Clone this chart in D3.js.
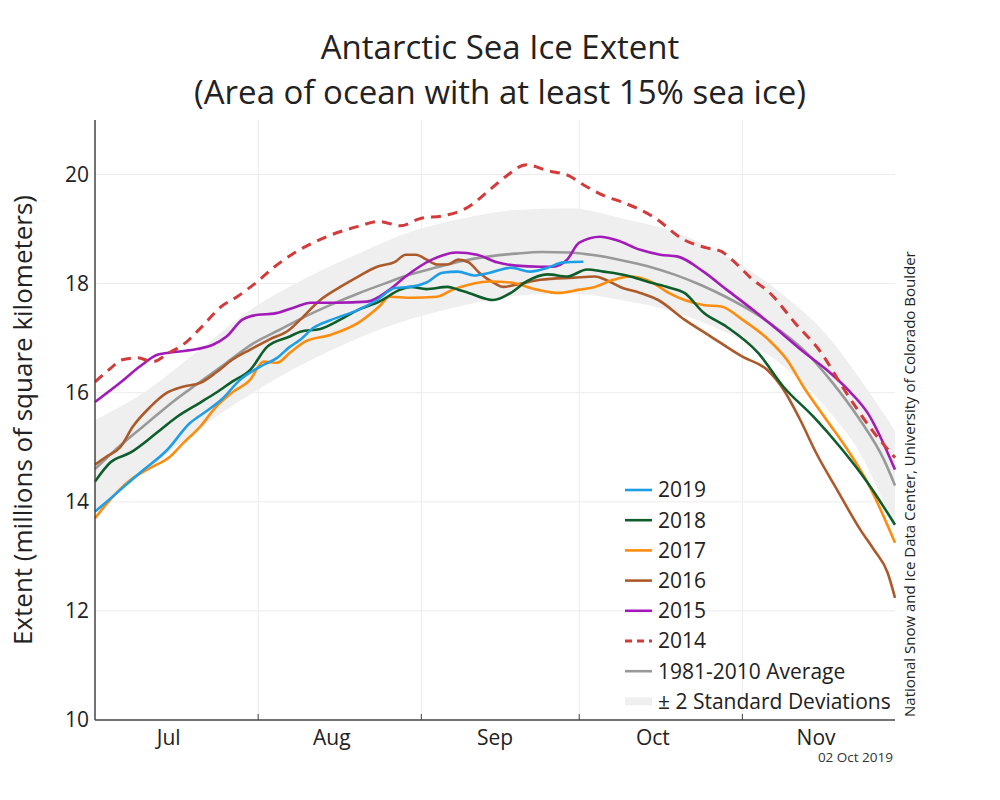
<!DOCTYPE html>
<html><head><meta charset="utf-8">
<script src="https://cdn.jsdelivr.net/npm/d3@7"></script>
<style>body{margin:0;background:#fff;font-family:"Open Sans",sans-serif;}</style>
</head><body><svg id="c" width="1000" height="800"></svg>
<script>
// Day offsets are days since 1 July 2019
const startDate = new Date(2019, 6, 1);
const endDate = new Date(2019, 10, 30);
const monthTicks = ["2019-08-01","2019-09-01","2019-10-01","2019-11-01"];
const monthLabels = ["Jul","Aug","Sep","Oct","Nov"];
const monthLabelDates = ["2019-07-15","2019-08-15","2019-09-15","2019-10-15","2019-11-15"];
const yTicks = [10,12,14,16,18,20];

const bandDays  = [0,10,20,30,40,50,60,70,80,90,100,110,120,130,140,145,152];
const bandLower = [13.85,14.6,15.35,16.0,16.55,17.0,17.35,17.6,17.78,17.82,17.7,17.48,17.1,16.55,15.6,14.95,13.5];
const bandUpper = [15.5,16.05,16.8,17.55,18.1,18.55,18.95,19.2,19.35,19.38,19.2,18.95,18.5,17.85,16.95,16.3,15.3];

const avgDays = [0,5,10,15,20,25,30,35,40,45,50,55,60,65,70,75,80,85,90,95,100,105,110,115,120,125,130,135,140,145,150,152];
const avgVals = [14.6,15.05,15.45,15.85,16.2,16.55,16.9,17.15,17.4,17.62,17.82,18.0,18.17,18.3,18.42,18.5,18.55,18.58,18.57,18.52,18.43,18.32,18.17,17.98,17.75,17.48,17.15,16.75,16.2,15.55,14.75,14.3];

const d2014 = [0,3,5,8,11,14,17,20,24,27,31,34,38,44,50,54,58,62,66,71,75,78,82,86,90,93,97,100,106,112,116,119,121,125,128,133,138,142,148,152];
const v2014 = [16.2,16.45,16.6,16.64,16.57,16.73,16.9,17.18,17.58,17.76,18.05,18.3,18.57,18.86,19.05,19.14,19.06,19.2,19.24,19.41,19.72,19.96,20.18,20.07,19.98,19.8,19.6,19.5,19.23,18.8,18.66,18.59,18.44,18.07,17.85,17.28,16.73,16.11,15.27,14.81];

const d2015 = [0,5,8.5,12,15.5,19.4,22.4,25,28,31,34,37.7,41,46,51.7,56,59,64,68.7,72.6,76.4,80,84.6,87,89.7,92,96,99,103.6,107.4,110.6,115.6,120,125,129.6,134.6,139,143,146.8,152];
const v2015 = [15.83,16.2,16.48,16.7,16.75,16.8,16.88,17.03,17.34,17.43,17.45,17.56,17.65,17.65,17.67,17.89,18.13,18.44,18.57,18.53,18.39,18.33,18.31,18.31,18.44,18.75,18.86,18.8,18.62,18.53,18.5,18.22,17.89,17.52,17.16,16.75,16.42,16.06,15.63,14.59];

const d2016 = [0,2.2,4.8,7.2,10.5,13.7,16.7,20,23,26,29.5,33,37,39,42.8,46.6,50,53.6,57,59,61,63,65,67,69,71,73,75.7,77.6,80,84.6,91,95,97,100,103.6,107,112,117,123,127.7,130.8,134,137,141,145.4,148,150.6,152];
const v2016 = [14.68,14.83,15.0,15.38,15.74,16.0,16.11,16.18,16.37,16.6,16.79,16.97,17.16,17.34,17.7,17.94,18.13,18.31,18.4,18.53,18.53,18.44,18.35,18.35,18.44,18.39,18.2,18.02,17.94,17.98,18.07,18.11,18.13,18.07,17.93,17.83,17.7,17.34,17.03,16.66,16.42,16.06,15.5,14.9,14.22,13.49,13.12,12.7,12.24];

const d2017 = [0,2.9,6.7,10.5,14.3,16.8,20,23,26,29.5,32,34.6,37,40,44.7,50,54,56,60,65,68,71,75,79,84,88,92,95,98.5,101.7,105.5,109,112,115.6,119,123,128,131.5,134.6,139,143,146.8,152];
const v2017 = [13.7,14.04,14.4,14.62,14.83,15.08,15.38,15.74,16.0,16.24,16.57,16.55,16.73,16.94,17.06,17.28,17.58,17.76,17.74,17.76,17.89,17.98,18.04,18.02,17.89,17.83,17.89,17.94,18.07,18.13,18.04,17.83,17.7,17.61,17.58,17.34,16.97,16.6,16.11,15.5,14.95,14.35,13.25];

const d2018 = [0,2.9,6.7,11.8,15.6,20,23,26,29.5,32.7,37,39,42.8,46.6,50,54,58,60,63,67,69,71,75.7,79,82,86,89.7,93.5,96.6,101,105.5,109,112,115.6,120,126,130.8,136.5,141.6,146.8,152];
const v2018 = [14.37,14.72,14.9,15.27,15.56,15.82,16.0,16.2,16.42,16.84,17.03,17.12,17.17,17.34,17.52,17.67,17.89,17.94,17.9,17.94,17.89,17.83,17.7,17.83,18.04,18.17,18.13,18.26,18.22,18.15,18.02,17.93,17.83,17.47,17.21,16.73,16.11,15.56,15.0,14.35,13.58];

const d2019 = [0,3.4,8.5,13.7,18,21,24,27.6,31.4,34.6,37,39,41.5,45,50,53.6,57,60,63,66,69,72,75,79,82.7,86,89,92.8];
const v2019 = [13.82,14.1,14.53,14.95,15.44,15.65,15.87,16.24,16.48,16.64,16.84,16.97,17.19,17.34,17.52,17.7,17.92,17.94,18.02,18.2,18.22,18.15,18.2,18.29,18.22,18.29,18.39,18.4];

const seriesNames = ["2019","2018","2017","2016","2015","2014","1981-2010 Average"];
const seriesColors = ["#1f9ee8","#0d5e2a","#ff8c0f","#ad5a2a","#a21ab8","#d33a3a","#999999"];

const svg = d3.select("#c");
const M = {l:95, r:895, t:120, b:720};
const day = d => startDate.getTime() + d*86400000;
const x = d3.scaleTime().domain([startDate, endDate]).range([M.l, M.r]);
const y = d3.scaleLinear().domain([10,21]).range([M.b, M.t]);
const parse = d3.timeParse("%Y-%m-%d");

// grid
svg.append("g").selectAll("line").data(yTicks.filter(t=>t>10)).join("line")
  .attr("x1",M.l).attr("x2",M.r).attr("y1",d=>y(d)).attr("y2",d=>y(d))
  .attr("stroke","#ececec").attr("stroke-width",1);
svg.append("g").selectAll("line").data(monthTicks.map(parse)).join("line")
  .attr("x1",d=>x(d)).attr("x2",d=>x(d)).attr("y1",M.t).attr("y2",M.b)
  .attr("stroke","#ececec").attr("stroke-width",1);

// band
const bandData = bandDays.map((d,i)=>({d, lo:bandLower[i], hi:bandUpper[i]}));
svg.append("path").datum(bandData)
  .attr("d", d3.area().x(p=>x(day(p.d))).y0(p=>y(p.lo)).y1(p=>y(p.hi)).curve(d3.curveMonotoneX))
  .attr("fill","#efefef");

const line = d3.line().x(p=>x(day(p[0]))).y(p=>y(p[1])).curve(d3.curveMonotoneX);
const zip = (a,b)=>a.map((d,i)=>[d,b[i]]);
const drawOrder = [
  [avgDays, avgVals, 6],
  [d2016, v2016, 3],
  [d2017, v2017, 2],
  [d2018, v2018, 1],
  [d2015, v2015, 4],
  [d2019, v2019, 0],
  [d2014, v2014, 5]
];
drawOrder.forEach(([ds,vs,k])=>{
  svg.append("path").datum(zip(ds,vs)).attr("d",line)
    .attr("fill","none").attr("stroke",seriesColors[k])
    .attr("stroke-width", k===5?3:2.6)
    .attr("stroke-dasharray", k===5?"10,7":null)
    .attr("stroke-linejoin","round");
});

// axes
svg.append("line").attr("x1",M.l).attr("x2",M.l).attr("y1",M.t).attr("y2",M.b).attr("stroke","#444").attr("stroke-width",1.5);
svg.append("line").attr("x1",M.l).attr("x2",M.r).attr("y1",M.b).attr("y2",M.b).attr("stroke","#444").attr("stroke-width",1.5);
svg.append("g").selectAll("line").data(monthTicks.map(parse)).join("line")
  .attr("x1",d=>x(d)).attr("x2",d=>x(d)).attr("y1",M.b-6).attr("y2",M.b)
  .attr("stroke","#444").attr("stroke-width",1);
svg.append("g").selectAll("text").data(yTicks).join("text")
  .attr("x",M.l-6).attr("y",d=>y(d)).attr("dy","0.35em").attr("text-anchor","end")
  .attr("font-size",21).attr("fill","#222").text(d=>d);
svg.append("g").selectAll("text").data(monthLabels).join("text")
  .attr("x",(d,i)=>x(parse(monthLabelDates[i]))).attr("y",M.b+25).attr("text-anchor","middle")
  .attr("font-size",21).attr("fill","#222").text(d=>d);

// titles
svg.append("text").attr("x",500).attr("y",59).attr("text-anchor","middle").attr("font-size",33).attr("fill","#222").text("Antarctic Sea Ice Extent");
svg.append("text").attr("x",500).attr("y",104).attr("text-anchor","middle").attr("font-size",33).attr("fill","#222").text("(Area of ocean with at least 15% sea ice)");
svg.append("text").attr("transform","translate(32,420) rotate(-90)").attr("text-anchor","middle").attr("font-size",26).attr("fill","#222").text("Extent (millions of square kilometers)");
svg.append("text").attr("transform","translate(915,717) rotate(-90)").attr("text-anchor","start").attr("font-size",15).attr("fill","#222").text("National Snow and Ice Data Center, University of Colorado Boulder");
svg.append("text").attr("x",893).attr("y",762).attr("text-anchor","end").attr("font-size",13.5).attr("fill","#333").text("02 Oct 2019");

// legend
const lg = svg.append("g");
const legY0 = 490, legDy = 30.2;
seriesNames.forEach((n,i)=>{
  const yy = legY0 + i*legDy;
  lg.append("line").attr("x1",625).attr("x2",652).attr("y1",yy).attr("y2",yy)
    .attr("stroke",seriesColors[i]).attr("stroke-width",i===5?3:2.6)
    .attr("stroke-dasharray",i===5?"7,5":null);
  lg.append("text").attr("x",658).attr("y",yy).attr("dy","0.35em").attr("font-size",21).attr("fill","#222").text(n);
});
const yb = legY0 + 7*legDy;
lg.append("rect").attr("x",625).attr("y",yb-4).attr("width",27).attr("height",8).attr("fill","#efefef");
lg.append("text").attr("x",658).attr("y",yb).attr("dy","0.35em").attr("font-size",21).attr("fill","#222").text("± 2 Standard Deviations");
</script></body></html>
